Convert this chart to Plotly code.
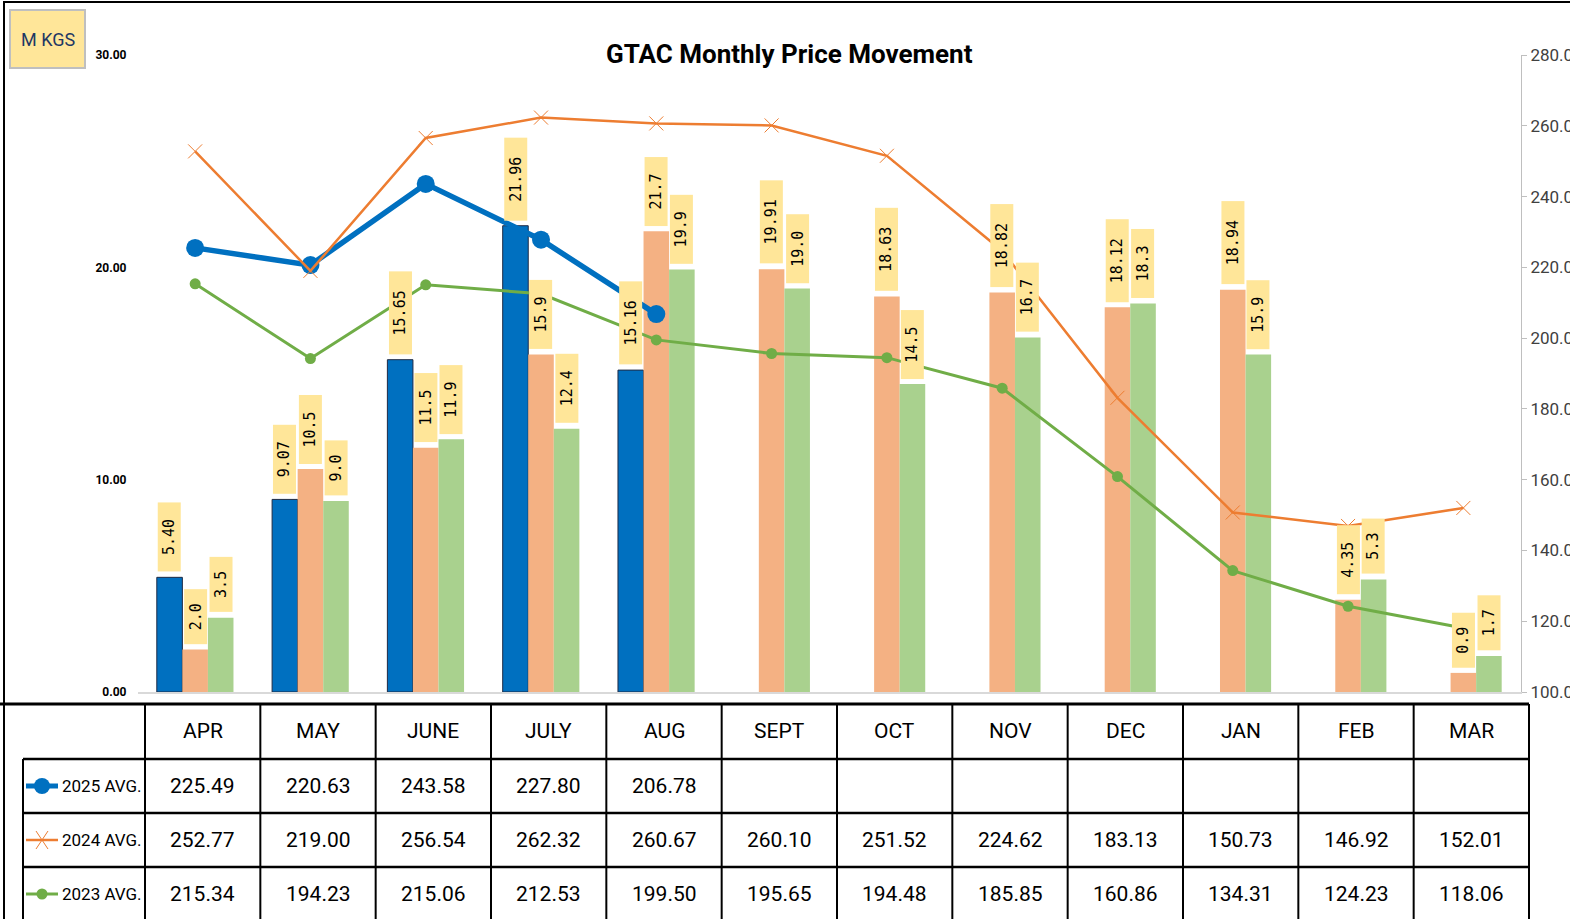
import plotly.graph_objects as go

# ---------------- data ----------------
months = ["APR", "MAY", "JUNE", "JULY", "AUG", "SEPT", "OCT", "NOV", "DEC", "JAN", "FEB", "MAR"]
series_names = ["2025 AVG.", "2024 AVG.", "2023 AVG."]

vol_2025 = [5.40, 9.07, 15.65, 21.96, 15.16]
vol_2024 = [2.0, 10.5, 11.5, 15.9, 21.7, 19.91, 18.63, 18.82, 18.12, 18.94, 4.35, 0.9]
vol_2023 = [3.5, 9.0, 11.9, 12.4, 19.9, 19.0, 14.5, 16.7, 18.3, 15.9, 5.3, 1.7]

lbl_2025 = ["5.40", "9.07", "15.65", "21.96", "15.16"]
lbl_2024 = ["2.0", "10.5", "11.5", "15.9", "21.7", "19.91", "18.63", "18.82", "18.12", "18.94", "4.35", "0.9"]
lbl_2023 = ["3.5", "9.0", "11.9", "12.4", "19.9", "19.0", "14.5", "16.7", "18.3", "15.9", "5.3", "1.7"]

price_2025 = [225.49, 220.63, 243.58, 227.80, 206.78]
price_2024 = [252.77, 219.00, 256.54, 262.32, 260.67, 260.10, 251.52, 224.62, 183.13, 150.73, 146.92, 152.01]
price_2023 = [215.34, 194.23, 215.06, 212.53, 199.50, 195.65, 194.48, 185.85, 160.86, 134.31, 124.23, 118.06]

left_ticks = [0, 10, 20, 30]
right_ticks = [100, 120, 140, 160, 180, 200, 220, 240, 260, 280]

# ---------------- styling ----------------
W, H = 1570, 919
BLUE, ORANGE, GREEN = "#0070C0", "#ED7D31", "#70AD47"
BAR_OR, BAR_GR = "#F4B183", "#A9D18E"
LBL_BG = "#FFE699"
FONT = "Roboto, Liberation Sans, sans-serif"
BARGAP = 0.335


def px(x):
    return x / W


def py(y):
    return 1 - y / H


fig = go.Figure()

idx = list(range(len(months)))
fig.add_trace(go.Bar(x=idx[:len(vol_2025)], y=vol_2025, name=series_names[0],
                     marker=dict(color=BLUE, line=dict(color="#1F2A44", width=1))))
fig.add_trace(go.Bar(x=idx, y=vol_2024, name=series_names[1],
                     marker=dict(color=BAR_OR, line=dict(width=0))))
fig.add_trace(go.Bar(x=idx, y=vol_2023, name=series_names[2],
                     marker=dict(color=BAR_GR, line=dict(width=0))))

fig.add_trace(go.Scatter(x=idx, y=price_2023, yaxis="y2", mode="lines+markers",
                         line=dict(color=GREEN, width=3),
                         marker=dict(symbol="circle", size=11, color=GREEN)))
fig.add_trace(go.Scatter(x=idx[:len(price_2025)], y=price_2025, yaxis="y2", mode="lines+markers",
                         line=dict(color=BLUE, width=5.5),
                         marker=dict(symbol="circle", size=18, color=BLUE)))
fig.add_trace(go.Scatter(x=idx, y=price_2024, yaxis="y2", mode="lines+markers",
                         line=dict(color=ORANGE, width=2.5),
                         marker=dict(symbol="x-thin-open", size=14, color=ORANGE,
                                     line=dict(color=ORANGE, width=1))))

annotations = []
shapes = []

# data labels on bars
bw = (1 - BARGAP) / 3
for k, (vals, labels) in enumerate([(vol_2025, lbl_2025), (vol_2024, lbl_2024), (vol_2023, lbl_2023)]):
    for i, (v, t) in enumerate(zip(vals, labels)):
        annotations.append(dict(
            x=i + (k - 1) * bw, y=v, xref="x", yref="y", text=t, showarrow=False,
            textangle=-90, yanchor="bottom", xanchor="center", yshift=5,
            bgcolor=LBL_BG, borderpad=2, width=14 * len(t) + 8, height=18,
            font=dict(family="DejaVu Sans Mono, monospace", size=15, color="black")))


def note(x, y, text, font, xanchor="center"):
    annotations.append(dict(x=px(x), y=py(y), xref="paper", yref="paper", text=text, showarrow=False,
                            xanchor=xanchor, yanchor="middle", font=font))


# title
note(789, 54, "<b>GTAC Monthly Price Movement</b>", dict(family=FONT, size=26, color="black"))
# M KGS box
shapes.append(dict(type="rect", xref="paper", yref="paper", x0=px(10), x1=px(85), y0=py(10), y1=py(68),
                   fillcolor=LBL_BG, line=dict(color="#BFBFBF", width=2)))
note(47.5, 40, "M KGS", dict(family=FONT, size=18, color="#1F3864"))

# outer border
shapes.append(dict(type="rect", xref="paper", yref="paper", x0=px(4), x1=px(1580), y0=py(2), y1=py(930),
                   line=dict(color="black", width=2), fillcolor="rgba(0,0,0,0)"))

# ---------------- table ----------------
tab_left = 145
col_w = (1529 - 145) / 12
row_lines = [759, 813, 867]
tab_top = 704
shapes.append(dict(type="line", xref="paper", yref="paper", x0=px(0), x1=px(1529), y0=py(tab_top), y1=py(tab_top),
                   line=dict(color="black", width=3)))
for yl in row_lines:
    shapes.append(dict(type="line", xref="paper", yref="paper", x0=px(23), x1=px(1529), y0=py(yl), y1=py(yl),
                       line=dict(color="black", width=2.5)))
for k in range(13):
    xl = tab_left + k * col_w
    shapes.append(dict(type="line", xref="paper", yref="paper", x0=px(xl), x1=px(xl), y0=py(tab_top), y1=py(925),
                       line=dict(color="black", width=2)))
shapes.append(dict(type="line", xref="paper", yref="paper", x0=px(23), x1=px(23), y0=py(759), y1=py(925),
                   line=dict(color="black", width=2)))

TFONT = dict(family=FONT, size=21, color="black")
LFONT = dict(family=FONT, size=17, color="black")
row_centers = [786, 840, 894]
for k, m in enumerate(months):
    note(tab_left + (k + 0.5) * col_w, 731, m, TFONT)
for r, prices in enumerate([price_2025, price_2024, price_2023]):
    for k, p in enumerate(prices):
        note(tab_left + (k + 0.5) * col_w, row_centers[r], f"{p:.2f}", TFONT)
    note(60, row_centers[r], series_names[r], LFONT, xanchor="left")


# legend keys in table
def hline(x0, x1, y, color, w):
    shapes.append(dict(type="line", xref="paper", yref="paper", x0=px(x0), x1=px(x1), y0=py(y), y1=py(y),
                       line=dict(color=color, width=w)))


def circ(cx, cy, r, color):
    shapes.append(dict(type="circle", xref="paper", yref="paper", x0=px(cx - r), x1=px(cx + r),
                       y0=py(cy + r), y1=py(cy - r), fillcolor=color, line=dict(color=color, width=0)))


hline(26, 58, row_centers[0], BLUE, 5)
circ(42, row_centers[0], 8, BLUE)
hline(26, 58, row_centers[1], ORANGE, 2.5)
cy = row_centers[1]
shapes.append(dict(type="line", xref="paper", yref="paper", x0=px(36), x1=px(48), y0=py(cy - 9), y1=py(cy + 9),
                   line=dict(color=ORANGE, width=1)))
shapes.append(dict(type="line", xref="paper", yref="paper", x0=px(36), x1=px(48), y0=py(cy + 9), y1=py(cy - 9),
                   line=dict(color=ORANGE, width=1)))
hline(26, 58, row_centers[2], GREEN, 3)
circ(42, row_centers[2], 5.5, GREEN)

fig.update_layout(
    width=W, height=H, margin=dict(l=0, r=0, t=0, b=0, autoexpand=False),
    paper_bgcolor="white", plot_bgcolor="white",
    barmode="group", bargap=BARGAP, bargroupgap=0,
    showlegend=False,
    xaxis=dict(domain=[px(137.5), px(1521)], range=[-0.5, 11.5], showticklabels=False, ticks="",
               automargin=False,
               showgrid=False, zeroline=False, showline=True, linecolor="#D9D9D9", linewidth=2),
    yaxis=dict(domain=[py(692), py(55)], range=[0, 30], tickvals=left_ticks, tickformat=".2f",
               automargin=False,
               showgrid=False, zeroline=False, showline=False, ticks="", ticklabelstandoff=10,
               tickfont=dict(family=FONT, size=12, color="black", weight="bold")),
    yaxis2=dict(overlaying="y", side="right", anchor="x", range=[100, 280], tickvals=right_ticks,
                automargin=False,
                tickformat=".2f", showgrid=False, zeroline=False, showline=True, linecolor="#BFBFBF",
                linewidth=1, ticks="outside", ticklen=5, tickcolor="#BFBFBF",
                tickfont=dict(family=FONT, size=17, color="#404040")),
    annotations=annotations, shapes=shapes,
)

fig.write_html("out.html", config={"displayModeBar": False},
               post_script="document.body.style.margin='0';")
